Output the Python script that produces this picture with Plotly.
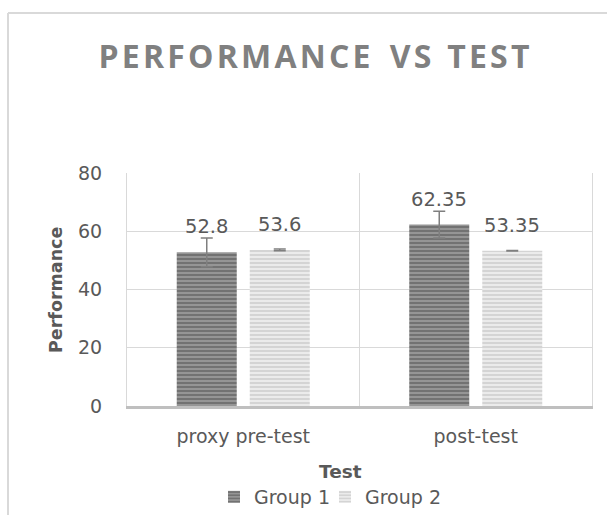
import plotly.graph_objects as go

categories = ["proxy pre-test", "post-test"]
group1 = [52.8, 62.35]
group2 = [53.6, 53.35]
group1_err = [4.95, 4.6]
group2_err = [0.3, 0.1]
series_names = ["Group 1", "Group 2"]
y_ticks = [0, 20, 40, 60, 80]
title_words = ["PERFORMANCE", "VS", "TEST"]

W, H = 607, 515
L, R, T, B = 127, 15, 173, 109
pw = W - L - R
ph = H - T - B

def px_x(p):
    return (p - L) / pw

def px_y(p):
    return (H - B - p) / ph

FONT = "'DejaVu Sans', sans-serif"
TFONT = "'Open Sans', sans-serif"
TXT = "#595959"

fig = go.Figure()
fig.add_trace(go.Bar(
    x=categories, y=group1, name=series_names[0], legendwidth=66,
    marker=dict(color="#8c8c8c", line=dict(width=0),
                pattern=dict(shape="-", fgcolor="#505050", bgcolor="#959595",
                             size=4, solidity=0.5, fillmode="overlay")),
    error_y=dict(type="data", array=group1_err, visible=True,
                 color="#7f7f7f", thickness=1.5, width=6),
))
fig.add_trace(go.Bar(
    x=categories, y=group2, name=series_names[1],
    marker=dict(color="#e3e3e3", line=dict(width=0),
                pattern=dict(shape="-", fgcolor="#bdbdbd", bgcolor="#ebebeb",
                             size=4, solidity=0.5, fillmode="overlay")),
    error_y=dict(type="data", array=group2_err, visible=True,
                 color="#7f7f7f", thickness=1.5, width=6),
))

annotations = []
for vals, shift in ((group1, -36.5), (group2, 36.5)):
    for c, v in zip(categories, vals):
        annotations.append(dict(
            x=c, y=v, xref="x", yref="y", text=f"{v:g}", showarrow=False,
            xshift=shift, yshift=12, yanchor="bottom",
            font=dict(family=FONT, size=19.5, color=TXT)))

annotations.append(dict(
    x=px_x(56), y=px_y(290), xref="paper", yref="paper", text="<b>Performance</b>",
    showarrow=False, textangle=-90, xanchor="center", yanchor="middle",
    font=dict(family=FONT, size=17.5, color=TXT)))
annotations.append(dict(
    x=px_x(340), y=px_y(471), xref="paper", yref="paper", text="<b>Test</b>",
    showarrow=False, xanchor="center", yanchor="middle",
    font=dict(family=FONT, size=18.5, color=TXT)))

shapes = [
    dict(type="line", xref="paper", yref="paper", x0=px_x(8), x1=px_x(620),
         y0=px_y(13), y1=px_y(13), line=dict(color="#d9d9d9", width=2)),
    dict(type="line", xref="paper", yref="paper", x0=px_x(8), x1=px_x(8),
         y0=px_y(13), y1=px_y(530), line=dict(color="#d9d9d9", width=2)),
]

# letter-spaced title (hair spaces between letters, wider gaps between words)
sp = ["\u2002\u200a", "\u2002"]
w = ["\u200a".join(x) for x in title_words]
spaced_title = w[0] + sp[0] + w[1] + sp[1] + w[2]

fig.update_layout(
    width=W, height=H,
    margin=dict(l=L, r=R, t=T, b=B, autoexpand=False),
    paper_bgcolor="white", plot_bgcolor="white",
    barmode="group", bargap=0.372, bargroupgap=0.178,
    title=dict(text=f"<b>{spaced_title}</b>", x=314 / W, xref="container",
               y=1 - 57 / H, yref="container", xanchor="center", yanchor="middle",
               font=dict(family=TFONT, size=32, color="#808080")),
    showlegend=True,
    legend=dict(orientation="h", x=px_x(214), y=px_y(497), xanchor="left",
                yanchor="middle", font=dict(family=FONT, size=19, color=TXT),
                itemwidth=30, tracegroupgap=0, bgcolor="rgba(0,0,0,0)"),
    annotations=annotations,
    shapes=shapes,
    font=dict(family=FONT, color=TXT),
)
fig.update_xaxes(
    type="category", showgrid=True, tickson="boundaries", gridcolor="#d9d9d9",
    gridwidth=1, ticks="", showline=True, linecolor="#bfbfbf", linewidth=3,
    tickfont=dict(family=FONT, size=19, color=TXT), ticklabelstandoff=11,
)
fig.update_yaxes(
    range=[0, 80.05], tickvals=y_ticks, showgrid=True, gridcolor="#d9d9d9",
    gridwidth=1, zeroline=False, showline=True, mirror=True, linecolor="#d9d9d9",
    linewidth=1, ticks="",
    tickfont=dict(family=FONT, size=19, color=TXT), ticklabelstandoff=20,
)

fig.write_html("out.html", config={"displayModeBar": False},
               post_script="document.body.style.margin='0px';")
